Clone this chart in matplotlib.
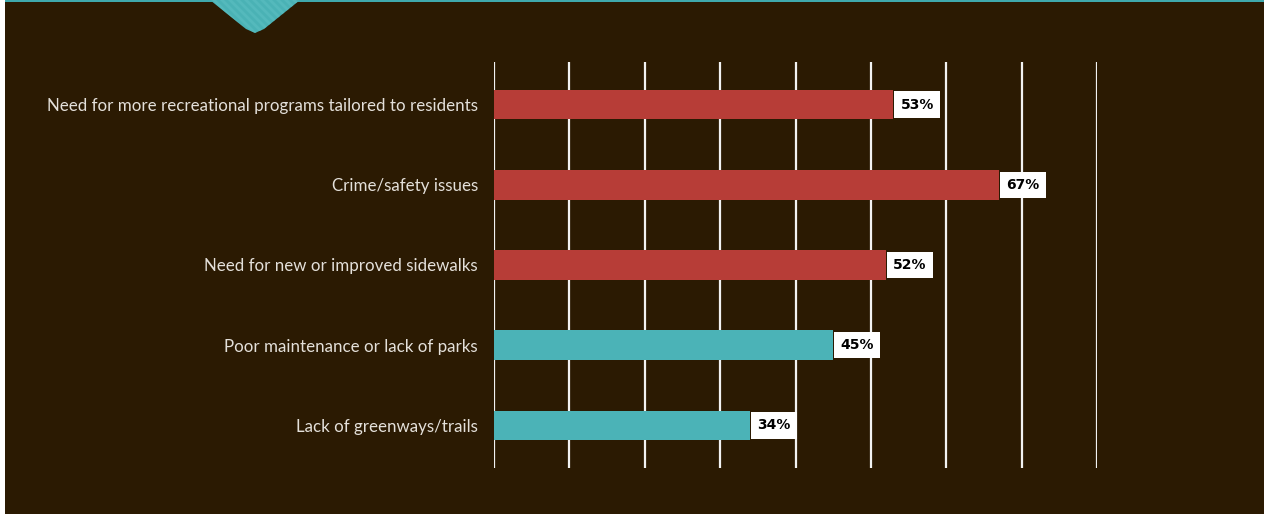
import matplotlib
matplotlib.use("Agg")
import matplotlib.pyplot as plt
from matplotlib.patches import Polygon, Rectangle

categories = [
    "Need for more recreational programs tailored to residents",
    "Crime/safety issues",
    "Need for new or improved sidewalks",
    "Poor maintenance or lack of parks",
    "Lack of greenways/trails",
]
values = [53, 67, 52, 45, 34]
colors = ["#B73D37", "#B73D37", "#B73D37", "#4BB3B7", "#4BB3B7"]
ticks = [0, 10, 20, 30, 40, 50, 60, 70, 80]

BG = "#2B1A02"
W, H = 1264, 514

fig = plt.figure(figsize=(W / 100, H / 100), dpi=100, facecolor=BG)

# frame decorations: left white strip, top teal rule, chevron tab
fig.patches.append(Rectangle((0, 0), 5 / W, 1, transform=fig.transFigure,
                             facecolor="white", edgecolor="none", zorder=0))
fig.patches.append(Rectangle((5 / W, 1 - 2 / H), 1, 2 / H, transform=fig.transFigure,
                             facecolor="#3FA9AD", edgecolor="none", zorder=1))
chev_pts = [(210, 0), (300, 0), (264, 29), (255, 33), (246, 29)]
chev = Polygon([(x / W, 1 - y / H) for x, y in chev_pts], closed=True,
               transform=fig.transFigure, facecolor="#4AB2B5",
               edgecolor="none", zorder=1)
fig.patches.append(chev)
for k in range(-20, 100, 8):
    x0 = 210 + k
    ln = plt.Line2D([x0 / W, (x0 + 34) / W], [1, 1 - 34 / H],
                    transform=fig.transFigure, color="#62C3C5",
                    lw=2.0, alpha=0.45, zorder=2)
    ln.set_clip_path(chev)
    fig.lines.append(ln)

left, right = 494 / W, 1097 / W
top, bottom = 1 - 62 / H, 1 - 468 / H
ax = fig.add_axes([left, bottom, right - left, top - bottom])
ax.set_facecolor(BG)
ax.set_xlim(0, 80)
ax.set_ylim(len(categories) - 0.5 + 0.03, -0.5 - 0.03)

for t in ticks:
    ax.axvline(t, color="#F2F2F2", lw=1.6, zorder=1)

y = list(range(len(categories)))
ax.barh(y, values, height=0.37, color=colors, zorder=2)

for yi, v in zip(y, values):
    ax.text(v + 0.95, yi, f"{v}%", va="center", ha="left", fontsize=10,
            fontweight="bold", color="black", zorder=3, family="DejaVu Sans",
            bbox=dict(boxstyle="square,pad=0.45", facecolor="white",
                      edgecolor="none"))

ax.set_yticks(y)
ax.set_yticklabels(categories, fontsize=12.2, color="#E4E0DA",
                   family="Lato", fontweight="normal")
ax.tick_params(axis="y", length=0, pad=11.5)
ax.set_xticks([])
for s in ax.spines.values():
    s.set_visible(False)

fig.savefig("out.png", dpi=100, facecolor=BG)
